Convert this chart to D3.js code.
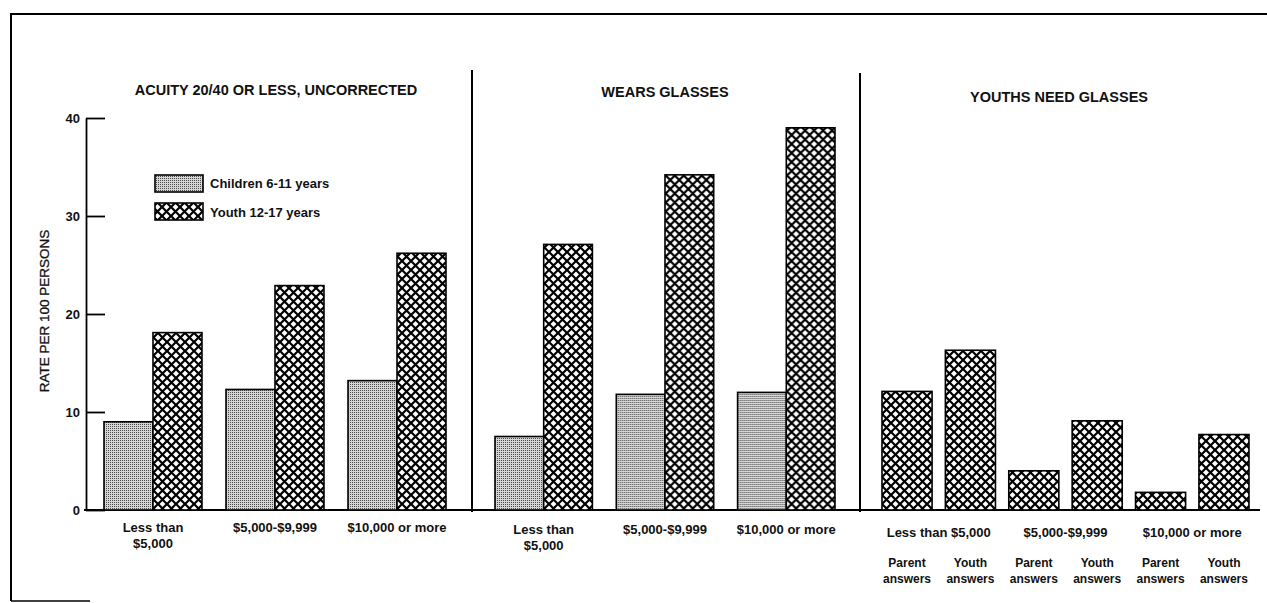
<!DOCTYPE html>
<html>
<head>
<meta charset="utf-8">
<script src="https://cdn.jsdelivr.net/npm/d3@7"></script>
<style>
  body { margin: 0; background: #fff; }
  svg text { font-family: "Liberation Sans", Arial, sans-serif; fill: #111; }
</style>
</head>
<body>
<div id="chart"></div>
<script>
// values (rate per 100 persons)
const incomeGroups = ["Less than $5,000", "$5,000-$9,999", "$10,000 or more"];
const incomeLines = [["Less than", "$5,000"], ["$5,000-$9,999"], ["$10,000 or more"]];
const seriesLabels = ["Children 6-11 years", "Youth 12-17 years"];
const panelTitles = ["ACUITY 20/40 OR LESS, UNCORRECTED", "WEARS GLASSES", "YOUTHS NEED GLASSES"];
const acuityChildren = [9.0, 12.3, 13.2];
const acuityYouth = [18.1, 22.9, 26.2];
const glassesChildren = [7.5, 11.8, 12.0];
const glassesYouth = [27.1, 34.2, 39.0];
const needParent = [12.1, 4.0, 1.8];
const needYouth = [16.3, 9.1, 7.7];
const answerLabels = [["Parent", "answers"], ["Youth", "answers"]];
const yTicks = [0, 10, 20, 30, 40];

const width = 1267, height = 603;
const svg = d3.select("#chart").append("svg")
  .attr("width", width).attr("height", height);

// patterns
const defs = svg.append("defs");
let dots = defs.append("pattern").attr("id", "dots")
  .attr("patternUnits", "userSpaceOnUse").attr("width", 2).attr("height", 2);
dots.append("rect").attr("width", 2).attr("height", 2).attr("fill", "#d6d6d6");
dots.append("rect").attr("width", 1).attr("height", 1).attr("fill", "#4a4a4a");

let hatch = defs.append("pattern").attr("id", "hatch")
  .attr("patternUnits", "userSpaceOnUse").attr("width", 9).attr("height", 9);
hatch.append("rect").attr("width", 9).attr("height", 9).attr("fill", "#fff");
hatch.append("path")
  .attr("d", "M-1,-1L10,10M-1,10L10,-1")
  .attr("stroke", "#000").attr("stroke-width", 2.2);

const fills = ["url(#dots)", "url(#hatch)"];

const y = d3.scaleLinear().domain([0, 40]).range([510, 118]);

// frame
svg.append("path").attr("d", "M11,601V14H1267").attr("fill", "none")
  .attr("stroke", "#000").attr("stroke-width", 2);
svg.append("line").attr("x1", 11).attr("x2", 90).attr("y1", 601).attr("y2", 601)
  .attr("stroke", "#000").attr("stroke-width", 1.5);

// y axis
const yAxis = d3.axisLeft(y).tickValues(yTicks)
  .tickSizeInner(-19).tickSizeOuter(0).tickPadding(6);
const ga = svg.append("g").attr("transform", "translate(86,0)").call(yAxis);
ga.selectAll("path, line").attr("stroke", "#000").attr("stroke-width", 1.8);
ga.selectAll("text").style("font-size", "13px").style("font-weight", "bold")
  .style("font-family", "'Liberation Sans', Arial, sans-serif");

svg.append("text")
  .attr("transform", "translate(49,311) rotate(-90)")
  .attr("text-anchor", "middle")
  .style("font-size", "13.5px")
  .style("stroke", "#111").style("stroke-width", 0.3)
  .text("RATE PER 100 PERSONS");

// baseline and dividers
svg.append("line").attr("x1", 84).attr("x2", 1260).attr("y1", y(0)).attr("y2", y(0))
  .attr("stroke", "#000").attr("stroke-width", 1.8);
[[472, 70], [860, 73]].forEach(function (d) {
  svg.append("line").attr("x1", d[0]).attr("x2", d[0]).attr("y1", d[1]).attr("y2", y(0) + 2)
    .attr("stroke", "#000").attr("stroke-width", 2);
});

// titles
const titlePos = [[276, 95], [665, 97], [1059, 102]];
panelTitles.forEach(function (t, i) {
  svg.append("text").attr("x", titlePos[i][0]).attr("y", titlePos[i][1])
    .attr("text-anchor", "middle")
    .style("font-size", "14.5px").style("font-weight", "bold")
    .text(t);
});

// panels 1 and 2: grouped bars
function groupedPanel(range, children, youth, labelY) {
  const x0 = d3.scaleBand().domain(incomeGroups).range(range).paddingInner(0.197);
  const x1 = d3.scaleBand().domain([0, 1]).range([0, x0.bandwidth()]);
  const rows = incomeGroups.map(function (g, i) {
    return { group: g, values: [children[i], youth[i]] };
  });
  const g = svg.append("g");
  const grp = g.selectAll("g").data(rows).enter().append("g")
    .attr("transform", function (d) { return "translate(" + x0(d.group) + ",0)"; });
  grp.selectAll("rect").data(function (d) { return d.values; }).enter().append("rect")
    .attr("x", function (d, i) { return x1(i); })
    .attr("width", x1.bandwidth())
    .attr("y", function (d) { return y(d); })
    .attr("height", function (d) { return y(0) - y(d); })
    .attr("fill", function (d, i) { return fills[i]; })
    .attr("stroke", "#000").attr("stroke-width", 1.6);
  incomeGroups.forEach(function (grpName, i) {
    incomeLines[i].forEach(function (line, j) {
      g.append("text")
        .attr("x", x0(grpName) + x0.bandwidth() / 2)
        .attr("y", labelY + j * 16)
        .attr("text-anchor", "middle")
        .style("font-size", "13px").style("font-weight", "bold")
        .text(line);
    });
  });
}
groupedPanel([104, 446], acuityChildren, acuityYouth, 532);
groupedPanel([495, 835], glassesChildren, glassesYouth, 534);

// panel 3: parent vs youth answers
const needRows = [];
incomeGroups.forEach(function (g, i) {
  needRows.push({ key: g + "|p", group: i, who: 0, value: needParent[i] });
  needRows.push({ key: g + "|y", group: i, who: 1, value: needYouth[i] });
});
const x3 = d3.scaleBand().domain(needRows.map(function (d) { return d.key; }))
  .range([882, 1249]).paddingInner(0.21);
const p3 = svg.append("g");
p3.selectAll("rect").data(needRows).enter().append("rect")
  .attr("x", function (d) { return x3(d.key); })
  .attr("width", x3.bandwidth())
  .attr("y", function (d) { return y(d.value); })
  .attr("height", function (d) { return y(0) - y(d.value); })
  .attr("fill", "url(#hatch)")
  .attr("stroke", "#000").attr("stroke-width", 1.6);
incomeGroups.forEach(function (g, i) {
  const a = x3(g + "|p"), b = x3(g + "|y") + x3.bandwidth();
  p3.append("text").attr("x", (a + b) / 2).attr("y", 537)
    .attr("text-anchor", "middle")
    .style("font-size", "13px").style("font-weight", "bold")
    .text(g);
});
needRows.forEach(function (d) {
  answerLabels[d.who].forEach(function (line, j) {
    p3.append("text")
      .attr("x", x3(d.key) + x3.bandwidth() / 2)
      .attr("y", 567 + j * 16)
      .attr("text-anchor", "middle")
      .style("font-size", "12px").style("font-weight", "bold")
      .text(line);
  });
});

// legend
const legend = svg.append("g");
seriesLabels.forEach(function (s, i) {
  legend.append("rect").attr("x", 155).attr("y", 175 + i * 28)
    .attr("width", 48).attr("height", 17)
    .attr("fill", fills[i]).attr("stroke", "#000").attr("stroke-width", 1.6);
  legend.append("text").attr("x", 210).attr("y", 188 + i * 29)
    .style("font-size", "13px").style("font-weight", "bold")
    .text(s);
});
</script>
</body>
</html>
